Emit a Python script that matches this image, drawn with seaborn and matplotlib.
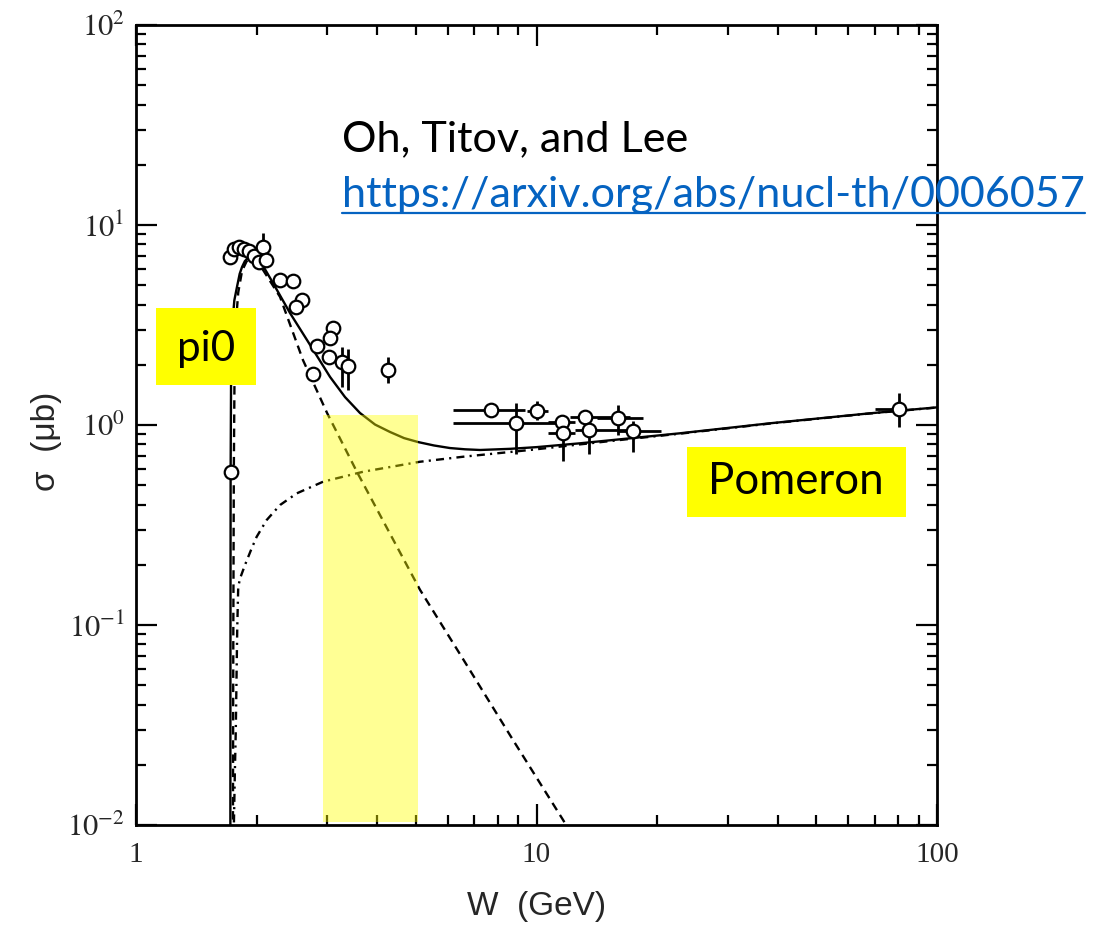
import matplotlib
matplotlib.use("Agg")
import matplotlib.pyplot as plt
from matplotlib.patches import Rectangle
from matplotlib.lines import Line2D
from matplotlib.ticker import FixedLocator, FixedFormatter, NullFormatter, LogLocator
import numpy as np
import pandas as pd
import seaborn as sns

# ---------------- model curves: W (GeV) vs sigma (micro-barn) ----------------
total_W = [1.720, 1.721, 1.723, 1.728, 1.740, 1.760, 1.787, 1.815, 1.840, 1.870,
           1.904, 1.940, 1.982, 2.063, 2.198, 2.424, 2.673, 3.051, 3.326, 3.625,
           3.953, 4.307, 4.67, 5.059, 5.547, 6.08, 6.63, 7.23, 8.59, 10.0,
           12.84, 17.12, 22.82, 38.3, 68.0, 100.0]
total_sigma = [0.004, 0.05, 0.6, 2.0, 3.2, 4.2, 4.9, 5.7, 6.17, 6.6,
               6.84, 6.9, 6.76, 6.38, 5.13, 3.63, 2.66, 1.74, 1.379, 1.148,
               1.005, 0.923, 0.860, 0.822, 0.790, 0.767, 0.756, 0.750, 0.760, 0.775,
               0.81, 0.858, 0.909, 1.02, 1.144, 1.225]

pi0_W = [1.744, 1.746, 1.750, 1.755, 1.762, 1.775, 1.800, 1.840, 1.890, 1.940,
         2.000, 2.076, 2.289, 2.612, 3.000, 3.563, 5.118, 6.554, 8.737, 11.65, 13.0]
pi0_sigma = [0.004, 0.01, 0.1, 0.6, 1.8, 3.2, 4.6, 5.9, 6.6, 6.8,
             6.6, 5.96, 4.37, 2.11, 1.148, 0.582, 0.150, 0.0676, 0.0266, 0.0106, 0.0073]

pomeron_W = [1.746, 1.752, 1.765, 1.775, 1.783, 1.790, 1.800, 1.819, 1.872, 1.945,
             2.001, 2.120, 2.289, 2.519, 2.935, 3.694, 5.118, 6.56, 9.63, 12.84,
             17.12, 22.82, 38.3, 68.0, 100.0]
pomeron_sigma = [0.004, 0.008, 0.018, 0.03, 0.0575, 0.098, 0.155, 0.171, 0.200, 0.242,
                 0.276, 0.335, 0.398, 0.455, 0.521, 0.584, 0.655, 0.694, 0.75, 0.80,
                 0.852, 0.905, 1.017, 1.142, 1.223]

# ---------------- measured cross sections ----------------
data_W = [1.725, 1.717, 1.757, 1.808, 1.861, 1.915, 1.970, 2.028, 2.076, 2.112,
          2.289, 2.466, 2.597, 2.509, 3.10, 3.05, 2.83, 3.03, 3.27, 3.38,
          2.77, 4.26,
          7.7, 8.89, 10.0, 11.58, 11.65, 13.21, 13.52, 15.98, 17.4, 80.4]
data_sigma = [0.58, 6.92, 7.59, 7.76, 7.59, 7.41, 7.00, 6.53, 7.76, 6.68,
              5.30, 5.25, 4.20, 3.90, 3.05, 2.72, 2.48, 2.19, 2.07, 1.97,
              1.80, 1.88,
              1.19, 1.02, 1.175, 1.035, 0.912, 1.096, 0.944, 1.084, 0.933, 1.20]
data_sigma_lo = [0.58, 6.92, 7.59, 7.76, 7.59, 7.41, 7.00, 6.53, 7.76, 6.68,
                 5.30, 5.25, 4.20, 3.90, 3.05, 2.72, 2.48, 2.19, 1.55, 1.50,
                 1.80, 1.62,
                 1.19, 0.72, 1.06, 0.95, 0.66, 1.02, 0.72, 0.89, 0.73, 0.98]
data_sigma_hi = [0.58, 6.92, 7.59, 7.76, 7.59, 7.41, 7.00, 6.53, 9.10, 6.68,
                 5.30, 5.25, 4.20, 3.90, 3.05, 2.72, 2.48, 2.19, 2.45, 2.40,
                 1.80, 2.20,
                 1.19, 1.29, 1.32, 1.12, 1.00, 1.18, 1.05, 1.26, 1.05, 1.45]
data_W_lo = [1.725, 1.717, 1.757, 1.808, 1.861, 1.915, 1.970, 2.028, 2.076, 2.112,
             2.289, 2.466, 2.597, 2.509, 3.10, 3.05, 2.83, 3.03, 3.27, 3.38,
             2.77, 4.26,
             6.19, 6.19, 9.46, 10.7, 10.7, 12.1, 12.5, 14.2, 15.9, 70.0]
data_W_hi = [1.725, 1.717, 1.757, 1.808, 1.861, 1.915, 1.970, 2.028, 2.076, 2.112,
             2.289, 2.466, 2.597, 2.509, 3.10, 3.05, 2.83, 3.03, 3.27, 3.38,
             2.77, 4.26,
             9.36, 11.25, 10.7, 12.5, 12.5, 17.1, 17.1, 18.4, 20.5, 82.4]

# highlighted W window and its height
band_W = [2.93, 5.06]
band_sigma = [0.0104, 1.12]

# axes ticks
x_ticks = [1, 10, 100]
x_tick_labels = ["1", "10", "100"]
y_ticks = [1e-2, 1e-1, 1e0, 1e1, 1e2]
y_tick_labels = [r"$10^{-2}$", r"$10^{-1}$", r"$10^{0}$", r"$10^{1}$", r"$10^{2}$"]

# ---------------- figure ----------------
sns.set_style("ticks")
plt.rcParams["mathtext.fontset"] = "stix"
plt.rcParams["font.family"] = ["Liberation Serif", "DejaVu Sans"]

FW, FH = 1114, 938
fig = plt.figure(figsize=(FW / 100, FH / 100), dpi=100)
ax = fig.add_axes([136 / FW, 1 - 825 / FH, 801 / FW, 800 / FH])
ax.set_xscale("log")
ax.set_yscale("log")

curves = pd.DataFrame({
    "W": total_W + pi0_W + pomeron_W,
    "sigma": total_sigma + pi0_sigma + pomeron_sigma,
    "part": ["total"] * len(total_W) + ["pi0"] * len(pi0_W) + ["pomeron"] * len(pomeron_W),
})
styles = {"total": "-", "pi0": (0, (3.6, 2.4)), "pomeron": (0, (3.4, 2.2, 0.9, 2.2))}
for part, ls in styles.items():
    sub = curves[curves["part"] == part]
    sns.lineplot(data=sub, x="W", y="sigma", ax=ax, color="black", linewidth=1.7,
                 linestyle=ls, sort=False, estimator=None, zorder=2)

W = np.array(data_W)
S = np.array(data_sigma)
ax.errorbar(W, S,
            xerr=[W - np.array(data_W_lo), np.array(data_W_hi) - W],
            yerr=[S - np.array(data_sigma_lo), np.array(data_sigma_hi) - S],
            fmt="none", ecolor="black", elinewidth=2.0, capsize=0, zorder=3)
sns.scatterplot(x=data_W, y=data_sigma, ax=ax, marker="o", s=95, color="white",
                edgecolor="black", linewidth=1.6, zorder=4)

# translucent highlight band
ax.add_patch(Rectangle((band_W[0], band_sigma[0]), band_W[1] - band_W[0],
                       band_sigma[1] - band_sigma[0], facecolor="#FFFF00",
                       alpha=0.42, linewidth=0, zorder=5))

ax.set_xlim(1, 100)
ax.set_ylim(1e-2, 1e2)

ax.xaxis.set_major_locator(FixedLocator(x_ticks))
ax.xaxis.set_major_formatter(FixedFormatter(x_tick_labels))
ax.xaxis.set_minor_locator(LogLocator(base=10, subs=np.arange(2, 10)))
ax.xaxis.set_minor_formatter(NullFormatter())
ax.yaxis.set_major_locator(FixedLocator(y_ticks))
ax.yaxis.set_major_formatter(FixedFormatter(y_tick_labels))
ax.yaxis.set_minor_locator(LogLocator(base=10, subs=np.arange(2, 10)))
ax.yaxis.set_minor_formatter(NullFormatter())

ax.tick_params(which="both", direction="in", top=True, right=True, color="black", width=1.6)
ax.tick_params(which="major", length=15)
ax.tick_params(which="minor", length=7.5)
ax.tick_params(axis="x", which="major", labelsize=21, pad=12)
ax.tick_params(axis="y", which="major", labelsize=22, pad=8)
for sp in ax.spines.values():
    sp.set_linewidth(2.0)
    sp.set_color("black")

ax.set_xlabel("W  (GeV)", fontsize=24, family=["Liberation Sans", "DejaVu Sans"])
ax.set_ylabel("σ  (μb)", fontsize=24, family=["Liberation Sans", "DejaVu Sans"])
ax.xaxis.set_label_coords(0.5, -0.083)
ax.yaxis.set_label_coords(-0.093, 0.479)


# ---------------- annotations in figure pixels ----------------
def fx(px):
    return px / FW


def fy(py):
    return 1 - py / FH


label_font = ["Lato", "DejaVu Sans"]

t_auth = fig.text(fx(342), fy(151), "Oh, Titov, and Lee", fontsize=30, family=label_font,
                  color="black", ha="left", va="baseline", zorder=20)
t_url = fig.text(fx(342), fy(207), "https://arxiv.org/abs/nucl-th/0006057", fontsize=30,
                 family=label_font, color="#0563C1", ha="left", va="baseline", zorder=20)
fig.add_artist(Line2D([fx(342), fx(1085)], [fy(213), fy(213)], color="#0563C1",
                      linewidth=1.6, transform=fig.transFigure, zorder=20))

fig.add_artist(Rectangle((fx(156), fy(385)), 100 / FW, 77 / FH, facecolor="#FFFF00",
                         edgecolor="none", transform=fig.transFigure, zorder=15))
t_pi = fig.text(fx(206), fy(349), "pi0", fontsize=30, family=label_font, color="black",
                ha="center", va="center", zorder=20)
fig.add_artist(Rectangle((fx(687), fy(517)), 219 / FW, 70 / FH, facecolor="#FFFF00",
                         edgecolor="none", transform=fig.transFigure, zorder=15))
t_pom = fig.text(fx(796), fy(482), "Pomeron", fontsize=30, family=label_font, color="black",
                 ha="center", va="center", zorder=20)

# scale the overlay texts to their intended widths
fig.canvas.draw()
renderer = fig.canvas.get_renderer()
for t, target in [(t_auth, 346), (t_url, 743), (t_pi, 58), (t_pom, 175)]:
    w = t.get_window_extent(renderer).width
    t.set_fontsize(t.get_fontsize() * target / w)

fig.savefig("out.png", dpi=100)
